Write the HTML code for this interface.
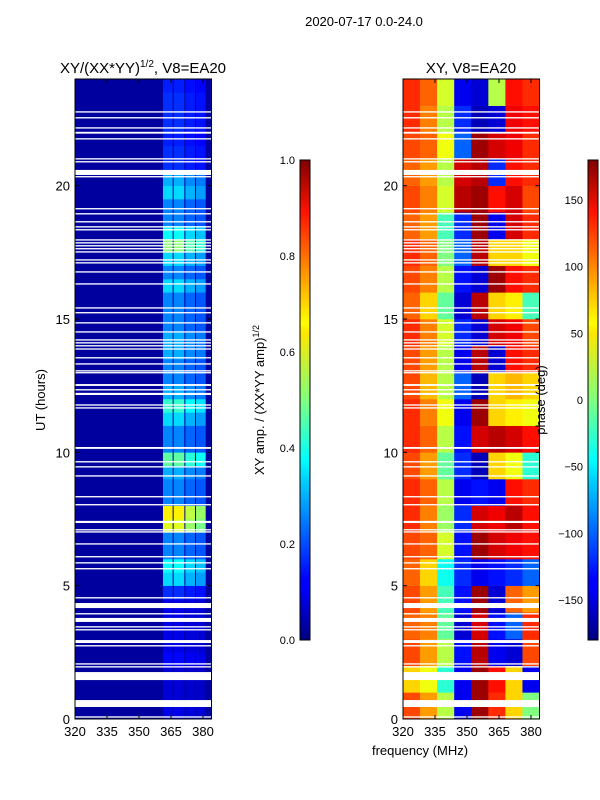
<!DOCTYPE html>
<html><head><meta charset="utf-8"><style>
html,body{margin:0;padding:0;background:#fff}
svg{display:block;font-family:"Liberation Sans",sans-serif}
</style></head><body>
<svg id="fig" width="600" height="800" viewBox="0 0 600 800" xmlns="http://www.w3.org/2000/svg">
<defs>
<linearGradient id="jet" x1="0" y1="1" x2="0" y2="0">
<stop offset="0" stop-color="#00007f"/><stop offset="0.11" stop-color="#0000ff"/><stop offset="0.125" stop-color="#0000ff"/>
<stop offset="0.34" stop-color="#00d8ff"/><stop offset="0.375" stop-color="#00ffff"/><stop offset="0.5" stop-color="#7fff7f"/>
<stop offset="0.64" stop-color="#ffe600"/><stop offset="0.66" stop-color="#ffff00"/><stop offset="0.89" stop-color="#ff1400"/><stop offset="1" stop-color="#7f0000"/>
</linearGradient>
</defs>
<text x="364" y="26" font-size="13" text-anchor="middle">2020-07-17 0.0-24.0</text>
<text x="143" y="73" font-size="15" text-anchor="middle">XY/(XX*YY)<tspan font-size="10" dy="-6">1/2</tspan><tspan dy="6">, V8=EA20</tspan></text>
<text x="471" y="73" font-size="15" text-anchor="middle">XY, V8=EA20</text>
<g id="left"></g>
<g id="right"></g>
<g id="axes"></g>
<text transform="translate(45,400) rotate(-90)" font-size="13" text-anchor="middle">UT (hours)</text>
<text x="420" y="755" font-size="13" text-anchor="middle">frequency (MHz)</text>
<text transform="translate(264,400) rotate(-90)" font-size="13" text-anchor="middle">XY amp. / (XX*YY amp)<tspan font-size="9" dy="-5">1/2</tspan></text>
<text transform="translate(545,400) rotate(-90)" font-size="13" text-anchor="middle">phase (deg)</text>
<rect x="300" y="160" width="10" height="480" fill="url(#jet)" stroke="#000" stroke-width="1"/>
<rect x="588" y="160" width="10" height="480" fill="url(#jet)" stroke="#000" stroke-width="1"/>
</svg>
<script>
const hours = [0,5,10,15,20];
const freqTicks = [320,335,350,365,380];
const ampTicks = [0.0,0.2,0.4,0.6,0.8,1.0];
const phaseTicks = [-150,-100,-50,0,50,100,150];
const bandAmp = [0.12,0.1,0.1,0.1,0.15,0.12,0.12,0.12,0.12,0.2,0.4,0.45,0.3,0.3,0.7,0.75,0.3,0.3,0.35,0.55,0.3,0.3,0.4,0.5,0.35,0.3,0.3,0.35,0.35,0.3,0.3,0.3,0.4,0.3,0.4,0.6,0.45,0.3,0.3,0.4,0.35,0.2,0.2,0.18,0.2,0.2,0.2,0.18];
const subBands = [[361,366],[366,371.5],[371.5,376.5],[376.5,381.5]];
const subScale = [0.85,0.85,0.75,0.7];
const bgAmp = 0.03;
const phaseCols = [320,328,336,344,352,360,368,376,384];
const phase = [
[110,80,20,-140,170,120,60,0],
[60,40,-30,-140,170,130,60,-140],
[110,80,20,-130,160,-140,-150,110],
[100,90,-10,-150,150,-130,-100,120],
[110,80,-20,-130,170,-150,100,80],
[100,60,-40,-120,-140,-130,-120,-100],
[110,100,30,-130,170,150,140,130],
[120,90,10,-120,150,140,160,130],
[120,100,20,-140,-130,-140,130,120],
[110,80,-10,-120,-160,60,40,-30],
[120,100,20,-130,150,160,150,130],
[120,90,40,-140,170,60,50,40],
[110,70,20,-100,-160,60,70,60],
[110,80,20,-140,160,-150,130,120],
[120,90,30,-120,-150,150,140,110],
[100,60,-10,-150,160,60,50,-20],
[110,90,20,-130,-150,170,130,120],
[120,100,0,-100,160,60,60,40],
[100,80,-20,-120,170,-140,150,120],
[110,90,30,160,170,130,150,110],
[100,80,20,150,160,-120,130,120],
[110,100,40,-100,170,150,140,120],
[120,90,20,-120,-160,-150,140,130],
[120,100,30,-140,-150,20,130,120]];
const gaps = [[22.74,22.79],[22.52,22.57],[22.14,22.19],[21.95,22.02],[21.73,21.78],[20.98,21.03],[20.87,20.92],[20.4,20.59],[20.31,20.36],[19.11,19.16],[18.92,18.97],[18.62,18.67],[18.43,18.48],[18.32,18.37],[17.94,17.99],[17.83,17.88],[17.72,17.77],[17.61,17.66],[17.49,17.54],[17.19,17.24],[17.08,17.13],[16.74,16.79],[16.29,16.34],[15.39,15.44],[15.21,15.26],[14.83,14.88],[14.49,14.54],[14.19,14.24],[14.08,14.13],[13.97,14.02],[13.85,13.9],[13.52,13.57],[13.29,13.34],[13.03,13.08],[12.96,13.01],[12.49,12.56],[12.32,12.37],[12.15,12.23],[11.75,11.8],[11.64,11.69],[10.13,10.2],[9.62,9.67],[9.43,9.48],[9.09,9.14],[8.31,8.36],[8.01,8.06],[7.35,7.43],[7.07,7.12],[6.99,7.04],[6.54,6.59],[6.06,6.11],[5.83,5.88],[5.61,5.66],[4.52,4.57],[4.16,4.35],[3.92,3.97],[3.64,3.79],[3.43,3.48],[3.32,3.37],[2.85,2.96],[2.72,2.77],[2.04,2.09],[1.93,1.98],[1.46,1.76],[0.45,0.71],[0.05,0.1]];

const NS='http://www.w3.org/2000/svg';
const Y0=719, PXH=26.667;
const yOf = h => Y0 - h*PXH;
const xL = f => 75 + (f-320)*2.1333;
const xR = f => 403 + (f-320)*2.1333;
function jet(v){v=Math.max(0,Math.min(1,v));
 const c=t=>Math.round(255*Math.max(0,Math.min(1,t)));
 return `rgb(${c(1.5-Math.abs(4*v-3))},${c(1.5-Math.abs(4*v-2))},${c(1.5-Math.abs(4*v-1))})`;}
function mk(tag,attrs,parent){const e=document.createElementNS(NS,tag);for(const k in attrs)e.setAttribute(k,attrs[k]);parent.appendChild(e);return e;}
const L=document.getElementById('left'), R=document.getElementById('right'), A=document.getElementById('axes');
let e=mk('rect',{x:xL(320),y:yOf(24),width:xL(384)-xL(320),height:yOf(0)-yOf(24),fill:jet(bgAmp)},L);


bandAmp.forEach((v,i)=>{subBands.forEach((sb,j)=>{
 const r=mk('rect',{x:xL(sb[0])+0.5,y:yOf((i+1)/2),width:xL(sb[1])-xL(sb[0])-1,height:PXH/2+0.3,fill:jet(v*subScale[j])},L);
 
 
});});
phase.forEach((row,i)=>{row.forEach((p,j)=>{
 const r=mk('rect',{x:xR(phaseCols[j]),y:yOf(i+1),width:xR(phaseCols[j+1])-xR(phaseCols[j])+0.3,height:PXH+0.3,fill:jet((p+180)/360)},R);
 
 
});});
gaps.forEach(g=>{[xL,xR].forEach(fx=>{
 const r=mk('rect',{x:fx(320),y:yOf(g[1]),width:fx(384)-fx(320),height:Math.max(1.3,(g[1]-g[0])*PXH),fill:'#fff'},A);
 
 
});});
[xL,xR].forEach((fx,k)=>{
 const f=mk('rect',{x:fx(320),y:yOf(24),width:fx(384)-fx(320),height:yOf(0)-yOf(24),fill:'none',stroke:'#000','stroke-width':1},A);
 
 
 hours.forEach(h=>{
  mk('line',{x1:fx(320),x2:fx(320)+4,y1:yOf(h),y2:yOf(h),stroke:'#000'},A);
  mk('line',{x1:fx(384),x2:fx(384)-4,y1:yOf(h),y2:yOf(h),stroke:'#000'},A);
  const t=mk('text',{x:fx(320)-5,y:yOf(h)+5,'font-size':13,'text-anchor':'end'},A);t.textContent=h;
  
  
 });
 freqTicks.forEach(fr=>{
  mk('line',{x1:fx(fr),x2:fx(fr),y1:yOf(0),y2:yOf(0)-4,stroke:'#000'},A);
  mk('line',{x1:fx(fr),x2:fx(fr),y1:yOf(24),y2:yOf(24)+4,stroke:'#000'},A);
  const t=mk('text',{x:fx(fr),y:736,'font-size':13,'text-anchor':'middle'},A);t.textContent=fr;
  
  
 });
});
ampTicks.forEach(v=>{const y=640-v*480;
 mk('line',{x1:300,x2:305,y1:y,y2:y,stroke:'#000'},A);
 const t=mk('text',{x:295,y:y+4,'font-size':11,'text-anchor':'end'},A);t.textContent=v.toFixed(1);
 
 
});
phaseTicks.forEach(v=>{const y=640-(v+180)/360*480;
 mk('line',{x1:588,x2:593,y1:y,y2:y,stroke:'#000'},A);
 const t=mk('text',{x:583,y:y+4,'font-size':11,'text-anchor':'end'},A);t.textContent=v<0?'\u2212'+(-v):v;
 
 
});
</script>
</body></html>
